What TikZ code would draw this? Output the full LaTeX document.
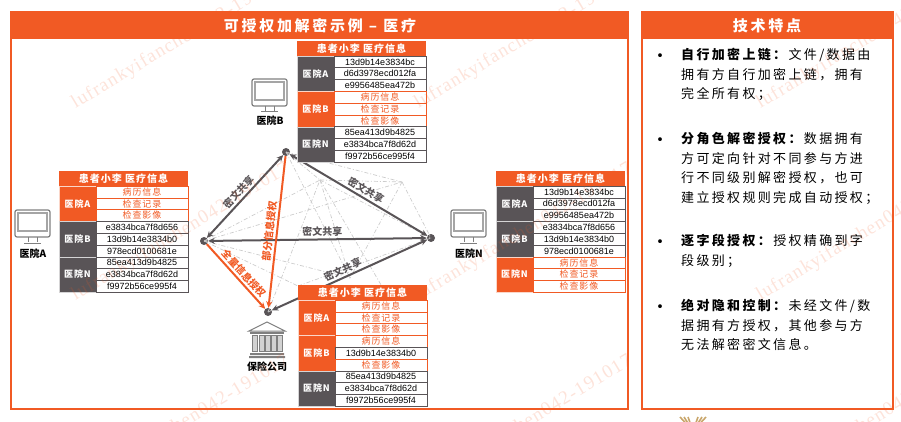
\documentclass[tikz,border=0pt]{standalone}
\usepackage{fontspec}
\setmainfont{Noto Sans CJK SC}
\newfontfamily\bodyfont[LetterSpace=18]{Noto Sans CJK SC}
\newfontfamily\cellfont[LetterSpace=10]{Noto Sans CJK SC}
\newfontfamily\hexfont{Liberation Sans}
\newfontfamily\markfont[LetterSpace=6]{Liberation Serif}
\usetikzlibrary{arrows.meta}
\definecolor{brandorange}{HTML}{F15A24}
\definecolor{darkgrey}{HTML}{595457}
\definecolor{icongrey}{HTML}{7F7F7F}
\definecolor{logotan}{HTML}{C9A66B}

\tikzset{
	tablehead/.style={fill=brandorange,text=white,minimum width=129pt,minimum height=15pt,inner sep=0pt,font=\cellfont\bfseries\fontsize{10}{10}\selectfont},
	orangehead/.style={fill=brandorange,draw=white!75!brandorange,line width=0.5pt,text=white,minimum width=37pt,minimum height=35.4pt,inner sep=0pt,font=\cellfont\bfseries\fontsize{9}{9}\selectfont},
	greyhead/.style={orangehead,fill=darkgrey,draw=white!75!darkgrey},
	hexcell/.style={fill=white,draw=darkgrey,line width=0.6pt,text=black,minimum width=92pt,minimum height=11.8pt,inner sep=0pt,font=\hexfont\fontsize{9}{9}\selectfont},
	medcell/.style={hexcell,draw=brandorange,text=brandorange,font=\cellfont\fontsize{9}{9}\selectfont},
	dotnode/.style={circle,fill=darkgrey,minimum size=8pt,inner sep=0pt},
	greylink/.style={<->,draw=darkgrey,line width=2pt},
	orangelink/.style={->,draw=brandorange,line width=2pt},
	greylabel/.style={text=darkgrey,font=\bfseries\fontsize{10}{10}\selectfont,inner sep=2pt},
	orangelabel/.style={text=brandorange,font=\bfseries\fontsize{10}{10}\selectfont,inner sep=2pt},
	webline/.style={draw=black!20,line width=0.7pt,dash pattern=on 4pt off 2pt on 1pt off 2pt},
	partylabel/.style={font=\bfseries\fontsize{10}{10}\selectfont},
	paneltitle/.style={text=white,font=\bodyfont\bfseries\fontsize{15}{15}\selectfont},
	bulletnode/.style={font=\fontsize{18}{18}\selectfont,inner sep=0pt},
	featnode/.style={anchor=north west,align=left,inner sep=0pt,font=\bodyfont\fontsize{13}{19.6}\selectfont},
	watermark/.style={anchor=west,rotate=31,inner sep=0pt,text=brandorange,text opacity=0.17,font=\markfont\fontsize{19}{19}\selectfont},
	monitor/.pic={
		\draw[icongrey,line width=1.2pt,rounded corners=2pt] (0,0) rectangle (35,27);
		\draw[icongrey!70,line width=1.2pt] (3,3) rectangle (32,21);
		\draw[icongrey,line width=1pt] (13,27) -- (13,32) (22,27) -- (22,32) (9,33) -- (26,33);
	},
	bank/.pic={
		\draw[icongrey,line width=1pt] (0,9) -- (18,0) -- (36,9) -- cycle;
		\fill[icongrey] (1,9.5) rectangle (35,12);
		\foreach \cx in {3,10,16,22,28}
			\draw[icongrey,line width=1pt,fill=icongrey!35] (\cx,13) rectangle (\cx+5,29);
		\fill[icongrey] (1,31) rectangle (35,33) (0,34) rectangle (36,36);
	},
}

\newcommand{\infotable}[5]{
	\begin{scope}[shift={(#2,#3)}]
		\node[tablehead] (#1head) at (64.5,7.5) {患者小李 医疗信息};
		\foreach \i/\lab/\sty in {#4}
			\node[\sty] (#1group\i) at (18.5,15+17.7+35.4*\i) {\lab};
		\foreach \i/\sty/\txt in {#5}
			\node[\sty] (#1row\i) at (83,15+5.9+11.8*\i) {\txt};
	\end{scope}
}

\begin{document}
\begin{tikzpicture}[x=1pt,y=-1pt,>={Stealth[length=6.5pt,width=6pt]}]

	\clip (0,0) rectangle (901,422);

	% panels
	\draw[brandorange,line width=2pt] (11,12) rectangle (628,409);
	\fill[brandorange] (10,11) rectangle (629,39);
	\node[paneltitle] (lefttitle) at (320,25.5) {可授权加解密示例 – 医疗};
	\draw[brandorange,line width=2pt] (642,12) rectangle (893,409);
	\fill[brandorange] (641,11) rectangle (894,39);
	\node[paneltitle] (righttitle) at (767,26) {技术特点};

	% parties
	\node[dotnode] (hospB) at (286,152) {};
	\node[dotnode] (hospA) at (204,241) {};
	\node[dotnode] (hospN) at (431,238) {};
	\node[dotnode] (insurer) at (268,312) {};

	\coordinate (webP) at (320,180);
	\coordinate (webQ) at (402,182);
	\coordinate (webR) at (298,286);
	\coordinate (webS) at (350,278);
	\coordinate (webT) at (384,290);

	\foreach \a/\b in {hospB/webP,hospB/webQ,webP/webQ,webQ/hospN,hospA/webP,hospA/webQ,webP/hospN,webP/webS,webQ/webS,hospB/webS,hospA/webR,hospA/webS,insurer/webP,insurer/hospN,webR/hospN,webP/webT}
		\draw[webline] (\a.center) -- (\b.center);

	\draw[greylink] (hospB) -- (hospA) node[midway,sloped,above,greylabel,xshift=-1pt] (labAB) {密文共享};
	\draw[greylink] (hospB) -- (hospN) node[midway,sloped,above,greylabel,xshift=4pt] (labBN) {密文共享};
	\draw[greylink] (hospA) -- (hospN) node[midway,sloped,above,greylabel,xshift=5pt] (labAN) {密文共享};
	\draw[greylink] (hospN) -- (insurer) node[midway,sloped,above,greylabel,xshift=-4pt] (labNI) {密文共享};
	\draw[orangelink] (hospA) -- (insurer) node[midway,sloped,above,orangelabel,xshift=3pt] (labAI) {全量信息授权};
	\draw[orangelink] (hospB) -- (insurer) node[midway,sloped,above,orangelabel] (labBI) {部分信息授权};

	% icons
	\pic at (252,79) {monitor};
	\node[partylabel] (nameB) at (270,121) {医院B};
	\pic at (15,210) {monitor};
	\node[partylabel] (nameA) at (33,254) {医院A};
	\pic at (451,210) {monitor};
	\node[partylabel] (nameN) at (469,254) {医院N};
	\pic at (249,322) {bank};
	\node[partylabel] (nameI) at (267,367) {保险公司};

	% tables
	\infotable{tabB}{297}{41}{0/医院A/greyhead,1/医院B/orangehead,2/医院N/greyhead}
		{0/hexcell/13d9b14e3834bc,1/hexcell/d6d3978ecd012fa,2/hexcell/e9956485ea472b,
		3/medcell/病历信息,4/medcell/检查记录,5/medcell/检查影像,
		6/hexcell/85ea413d9b4825,7/hexcell/e3834bca7f8d62d,8/hexcell/f9972b56ce995f4}
	\infotable{tabA}{59}{171}{0/医院A/orangehead,1/医院B/greyhead,2/医院N/greyhead}
		{0/medcell/病历信息,1/medcell/检查记录,2/medcell/检查影像,
		3/hexcell/e3834bca7f8d656,4/hexcell/13d9b14e3834b0,5/hexcell/978ecd0100681e,
		6/hexcell/85ea413d9b4825,7/hexcell/e3834bca7f8d62d,8/hexcell/f9972b56ce995f4}
	\infotable{tabN}{496}{171}{0/医院A/greyhead,1/医院B/greyhead,2/医院N/orangehead}
		{0/hexcell/13d9b14e3834bc,1/hexcell/d6d3978ecd012fa,2/hexcell/e9956485ea472b,
		3/hexcell/e3834bca7f8d656,4/hexcell/13d9b14e3834b0,5/hexcell/978ecd0100681e,
		6/medcell/病历信息,7/medcell/检查记录,8/medcell/检查影像}
	\infotable{tabI}{298}{285}{0/医院A/orangehead,1/医院B/orangehead,2/医院N/greyhead}
		{0/medcell/病历信息,1/medcell/检查记录,2/medcell/检查影像,
		3/medcell/病历信息,4/hexcell/13d9b14e3834b0,5/medcell/检查影像,
		6/hexcell/85ea413d9b4825,7/hexcell/e3834bca7f8d62d,8/hexcell/f9972b56ce995f4}

	% features
	\foreach \y in {58,142,244,309}
		\node[bulletnode] (bullet\y) at (660,\y) {•};
	\node[featnode] (featA) at (681,48) {\textbf{自行加密上链^^^^ff1a}文件/数据由\\拥有方自行加密上链^^^^ff0c拥有\\完全所有权^^^^ff1b};
	\node[featnode] (featB) at (681,132) {\textbf{分角色解密授权^^^^ff1a}数据拥有\\方可定向针对不同参与方进\\行不同级别解密授权^^^^ff0c也可\\建立授权规则完成自动授权^^^^ff1b};
	\node[featnode] (featC) at (681,234) {\textbf{逐字段授权^^^^ff1a}授权精确到字\\段级别^^^^ff1b};
	\node[featnode] (featD) at (681,299) {\textbf{绝对隐和控制^^^^ff1a}未经文件/数\\据拥有方授权^^^^ff0c其他参与方\\无法解密密文信息。};

	% logo
	\foreach \dx in {-13,-9,-5,5,9,13}
		\draw[logotan,line width=1.6pt] ({693+0.5*\dx},424) -- ({693+\dx},417);

	% watermark
	\foreach \wx in {73,416,758}
		\foreach \wy in {105,297,489}
			\node[watermark] (mark\wx\wy) at (\wx,\wy) {lufrankyifanchen042-191017};

\end{tikzpicture}
\end{document}
